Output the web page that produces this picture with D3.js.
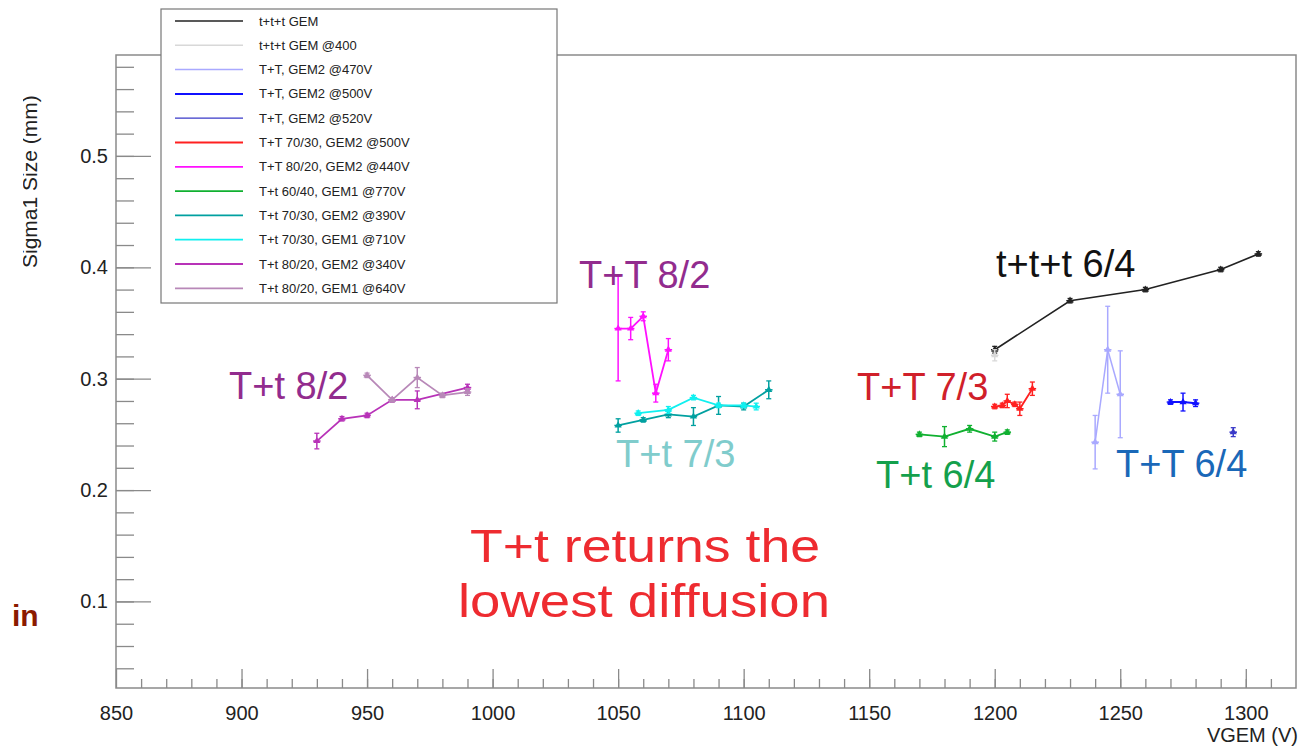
<!DOCTYPE html>
<html>
<head>
<meta charset="utf-8">
<script src="https://cdn.jsdelivr.net/npm/d3@7"></script>
<style>
  body { margin: 0; background: #fff; }
  svg { display: block; font-family: "Liberation Sans", Arial, sans-serif; }
</style>
</head>
<body>
<svg id="chart"></svg>
<script>
const width = 1302;
const height = 747;

// t+t+t GEM
const tttV = [1200, 1230, 1260, 1290, 1305];
const tttS = [0.326, 0.370, 0.380, 0.398, 0.412];
const tttE = [0.003, 0.002, 0.002, 0.002, 0.002];
// t+t+t GEM @400
const ttt400V = [1200];
const ttt400S = [0.321];
const ttt400E = [0.005];
// T+T, GEM2 @470V
const tt470V = [1240, 1245, 1250];
const tt470S = [0.243, 0.326, 0.286];
const tt470E = [0.024, 0.039, 0.039];
// T+T, GEM2 @500V
const tt500V = [1270, 1275, 1280];
const tt500S = [0.279, 0.279, 0.278];
const tt500E = [0.002, 0.008, 0.003];
// T+T, GEM2 @520V
const tt520V = [1295];
const tt520S = [0.252];
const tt520E = [0.004];
// T+T 70/30, GEM2 @500V
const tt7030V = [1200, 1203, 1205, 1208, 1210, 1215];
const tt7030S = [0.275, 0.276, 0.280, 0.277, 0.273, 0.291];
const tt7030E = [0.002, 0.002, 0.006, 0.002, 0.006, 0.006];
// T+T 80/20, GEM2 @440V
const tt8020V = [1050, 1055, 1060, 1065, 1070];
const tt8020S = [0.345, 0.345, 0.356, 0.287, 0.326];
const tt8020E = [0.047, 0.010, 0.004, 0.008, 0.010];
// T+t 60/40, GEM1 @770V
const tt6040V = [1170, 1180, 1190, 1200, 1205];
const tt6040S = [0.250, 0.248, 0.255, 0.248, 0.252];
const tt6040E = [0.002, 0.009, 0.003, 0.004, 0.002];
// T+t 70/30, GEM2 @390V
const tg7030V = [1050, 1060, 1070, 1080, 1090, 1100, 1110];
const tg7030S = [0.258, 0.263, 0.268, 0.266, 0.276, 0.275, 0.290];
const tg7030E = [0.006, 0.002, 0.003, 0.008, 0.008, 0.003, 0.008];
// T+t 70/30, GEM1 @710V
const tg7030g1V = [1058, 1070, 1080, 1090, 1100, 1105];
const tg7030g1S = [0.269, 0.272, 0.283, 0.276, 0.276, 0.275];
const tg7030g1E = [0.002, 0.003, 0.002, 0.002, 0.002, 0.003];
// T+t 80/20, GEM2 @340V
const tg8020V = [930, 940, 950, 960, 970, 990];
const tg8020S = [0.244, 0.264, 0.267, 0.281, 0.281, 0.292];
const tg8020E = [0.007, 0.002, 0.002, 0.002, 0.008, 0.003];
// T+t 80/20, GEM1 @640V
const tg8020g1V = [950, 960, 970, 980, 990];
const tg8020g1S = [0.303, 0.281, 0.301, 0.285, 0.288];
const tg8020g1E = [0.002, 0.002, 0.009, 0.002, 0.003];

const legendLabels = [
    't+t+t GEM', 't+t+t GEM @400', 'T+T, GEM2 @470V', 'T+T, GEM2 @500V',
    'T+T, GEM2 @520V', 'T+T 70/30, GEM2 @500V', 'T+T 80/20, GEM2 @440V',
    'T+t 60/40, GEM1 @770V', 'T+t 70/30, GEM2 @390V', 'T+t 70/30, GEM1 @710V',
    'T+t 80/20, GEM2 @340V', 'T+t 80/20, GEM1 @640V'
];
const xMajor = [850, 900, 950, 1000, 1050, 1100, 1150, 1200, 1250, 1300];
const yMajor = [0.1, 0.2, 0.3, 0.4, 0.5];

const series = [
    { v: tttV, s: tttS, e: tttE, color: '#222', w: 1.6 },
    { v: ttt400V, s: ttt400S, e: ttt400E, color: '#d8d8d8', w: 1.5 },
    { v: tt470V, s: tt470S, e: tt470E, color: '#a9a9ff', w: 1.5 },
    { v: tt500V, s: tt500S, e: tt500E, color: '#1010ff', w: 2 },
    { v: tt520V, s: tt520S, e: tt520E, color: '#3838c8', w: 1.2 },
    { v: tt7030V, s: tt7030S, e: tt7030E, color: '#ff2020', w: 1.8 },
    { v: tt8020V, s: tt8020S, e: tt8020E, color: '#ff10ff', w: 1.8 },
    { v: tt6040V, s: tt6040S, e: tt6040E, color: '#10b030', w: 1.8 },
    { v: tg7030V, s: tg7030S, e: tg7030E, color: '#00a0a0', w: 1.8 },
    { v: tg7030g1V, s: tg7030g1S, e: tg7030g1E, color: '#10f0f0', w: 1.8 },
    { v: tg8020V, s: tg8020S, e: tg8020E, color: '#b832b8', w: 1.8 },
    { v: tg8020g1V, s: tg8020g1S, e: tg8020g1E, color: '#b888b8', w: 1.8 }
];

const x = d3.scaleLinear().domain([850, 1320]).range([116, 1296]);
const y = d3.scaleLinear().domain([0.0223, 0.5906]).range([688, 55]);

const svg = d3.select('#chart')
    .attr('width', width)
    .attr('height', height);

// frame
svg.append('rect')
    .attr('x', x(850)).attr('y', y(0.5906))
    .attr('width', x(1320) - x(850)).attr('height', y(0.0223) - y(0.5906))
    .attr('fill', 'none').attr('stroke', '#8a8a8a').attr('stroke-width', 1.5);

// minor ticks
svg.append('g')
    .attr('transform', `translate(0,${y(0.0223)})`)
    .call(d3.axisBottom(x).tickValues(d3.range(860, 1320, 10)).tickSizeInner(-9).tickSizeOuter(0).tickFormat(''))
    .call(g => g.select('.domain').remove())
    .selectAll('line').attr('stroke', '#8a8a8a').attr('stroke-width', 1.3);
svg.append('g')
    .attr('transform', `translate(${x(850)},0)`)
    .call(d3.axisLeft(y).tickValues(d3.range(0.04, 0.59, 0.02)).tickSizeInner(-18).tickSizeOuter(0).tickFormat(''))
    .call(g => g.select('.domain').remove())
    .selectAll('line').attr('stroke', '#8a8a8a').attr('stroke-width', 1.3);

// major ticks + labels
const xAxis = svg.append('g')
    .attr('transform', `translate(0,${y(0.0223)})`)
    .call(d3.axisBottom(x).tickValues(xMajor).tickSizeInner(-19).tickSizeOuter(0).tickPadding(18).tickFormat(d3.format('d')));
xAxis.select('.domain').remove();
xAxis.selectAll('line').attr('stroke', '#8a8a8a').attr('stroke-width', 1.3);
xAxis.selectAll('text').attr('font-size', 20).attr('fill', '#222')
    .attr('font-family', '"Liberation Sans", Arial, sans-serif');

const yAxis = svg.append('g')
    .attr('transform', `translate(${x(850)},0)`)
    .call(d3.axisLeft(y).tickValues(yMajor).tickSizeInner(-35).tickSizeOuter(0).tickPadding(8).tickFormat(d3.format('.1f')));
yAxis.select('.domain').remove();
yAxis.selectAll('line').attr('stroke', '#8a8a8a').attr('stroke-width', 1.3);
yAxis.selectAll('text').attr('font-size', 20).attr('fill', '#222')
    .attr('font-family', '"Liberation Sans", Arial, sans-serif');

svg.append('text')
    .attr('x', 1298).attr('y', 742)
    .attr('text-anchor', 'end')
    .attr('font-size', 20).attr('fill', '#222')
    .text('VGEM (V)');

// y title, clipped on its left like the original
svg.append('clipPath').attr('id', 'ytclip')
    .append('rect').attr('x', 23).attr('y', 0).attr('width', 60).attr('height', height);
svg.append('g')
    .attr('clip-path', 'url(#ytclip)')
    .append('text')
    .attr('transform', 'translate(37,268) rotate(-90)')
    .attr('font-size', 21).attr('fill', '#222')
    .text('Sigma1 Size (mm)');

// graphs
const line = d3.line().x(d => x(d.v)).y(d => y(d.s));
const tri = d3.symbol().type(d3.symbolTriangle).size(22);
const exV = 1.5;

series.forEach(sr => {
    const pts = sr.v.map((v, i) => ({ v: v, s: sr.s[i], e: sr.e[i] }));
    const g = svg.append('g');
    if (pts.length > 1) {
        g.append('path').datum(pts)
            .attr('d', line)
            .attr('fill', 'none')
            .attr('stroke', sr.color)
            .attr('stroke-width', sr.w);
    }
    const p = g.selectAll('g').data(pts).enter().append('g');
    p.append('line')
        .attr('x1', d => x(d.v)).attr('x2', d => x(d.v))
        .attr('y1', d => y(d.s - d.e)).attr('y2', d => y(d.s + d.e))
        .attr('stroke', sr.color).attr('stroke-width', 1.5);
    p.append('line')
        .attr('x1', d => x(d.v - exV)).attr('x2', d => x(d.v + exV))
        .attr('y1', d => y(d.s)).attr('y2', d => y(d.s))
        .attr('stroke', sr.color).attr('stroke-width', 1.5);
    [-1, 1].forEach(k => {
        p.append('line')
            .attr('x1', d => x(d.v) - 2.5).attr('x2', d => x(d.v) + 2.5)
            .attr('y1', d => y(d.s + k * d.e)).attr('y2', d => y(d.s + k * d.e))
            .attr('stroke', sr.color).attr('stroke-width', 1.3);
    });
    p.append('path')
        .attr('d', tri)
        .attr('transform', d => `translate(${x(d.v)},${y(d.s)})`)
        .attr('fill', sr.color);
});

// legend
const leg = svg.append('g');
leg.append('rect')
    .attr('x', 161).attr('y', 9).attr('width', 396).attr('height', 294)
    .attr('fill', '#fff').attr('stroke', '#777').attr('stroke-width', 1.2);
legendLabels.forEach((lab, i) => {
    const ly = 21 + i * 24.3;
    leg.append('line')
        .attr('x1', 175).attr('x2', 243).attr('y1', ly).attr('y2', ly)
        .attr('stroke', series[i].color).attr('stroke-width', series[i].w);
    leg.append('text')
        .attr('x', 259).attr('y', ly + 4.5)
        .attr('font-size', 13).attr('fill', '#222')
        .text(lab);
});

// annotations
const notes = [
    { t: 'T+t 8/2', x: 229, y: 399, c: '#922c8e' },
    { t: 'T+T 8/2', x: 579, y: 288, c: '#922c8e' },
    { t: 'T+t 7/3', x: 616, y: 467, c: '#80cccc' },
    { t: 'T+T 7/3', x: 857, y: 400, c: '#d0202a' },
    { t: 'T+t 6/4', x: 876, y: 488, c: '#14a04c' },
    { t: 'T+T 6/4', x: 1116, y: 477, c: '#1a68b8' },
    { t: 't+t+t 6/4', x: 996, y: 277, c: '#111' }
];
notes.forEach(n => {
    svg.append('text')
        .attr('x', n.x).attr('y', n.y)
        .attr('font-size', 38).attr('fill', n.c)
        .text(n.t);
});

svg.append('text')
    .attr('x', 470).attr('y', 562)
    .attr('font-size', 46).attr('fill', '#ee2b30')
    .attr('textLength', 350).attr('lengthAdjust', 'spacingAndGlyphs')
    .text('T+t returns the');
svg.append('text')
    .attr('x', 458).attr('y', 617)
    .attr('font-size', 46).attr('fill', '#ee2b30')
    .attr('textLength', 372).attr('lengthAdjust', 'spacingAndGlyphs')
    .text('lowest diffusion');

svg.append('text')
    .attr('x', 12).attr('y', 626)
    .attr('font-size', 30).attr('font-weight', 'bold').attr('fill', '#8b1a00')
    .text('in');
</script>
</body>
</html>
